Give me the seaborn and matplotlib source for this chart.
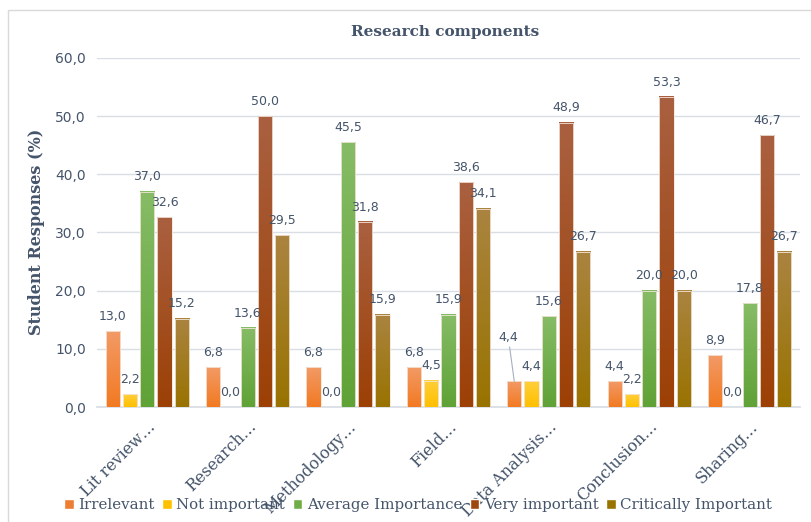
import numpy as np
import pandas as pd
import matplotlib
matplotlib.use("Agg")
import matplotlib.pyplot as plt
import matplotlib.colors as mcolors
from matplotlib.patches import Rectangle
import seaborn as sns

# data
components = ["Lit review…", "Research…", "Methodology…", "Field…",
              "Data Analysis…", "Conclusion…", "Sharing…"]
levels = ["Irrelevant", "Not important", "Average Importance",
          "Very important", "Critically Important"]
irrelevant = [13.0, 6.8, 6.8, 6.8, 4.4, 4.4, 8.9]
not_important = [2.2, 0.0, 0.0, 4.5, 4.4, 2.2, 0.0]
average_importance = [37.0, 13.6, 45.5, 15.9, 15.6, 20.0, 17.8]
very_important = [32.6, 50.0, 31.8, 38.6, 48.9, 53.3, 46.7]
critically_important = [15.2, 29.5, 15.9, 34.1, 26.7, 20.0, 26.7]

base_colors = ["#ED7D31", "#FFC000", "#70AD47", "#9E480E", "#997300"]
# (top, bottom) for the vertical gradient on each bar
grad_colors = [("#F29A66", "#F27A22"), ("#FFCF3A", "#FFC000"),
               ("#86BC66", "#5FA236"), ("#AA6040", "#9C4005"),
               ("#AA8440", "#997300")]
text_col = "#44546A"

values = [irrelevant, not_important, average_importance,
          very_important, critically_important]
rows = []
for lvl, vals in zip(levels, values):
    for comp, v in zip(components, vals):
        rows.append({"component": comp, "level": lvl, "value": v})
df = pd.DataFrame(rows)

sns.set_theme(style="white")
plt.rcParams["font.family"] = ["DejaVu Serif"]

fig = plt.figure(figsize=(8.12, 5.22), dpi=100)
ax = fig.add_axes([0.1195, 0.2203, 0.8655, 0.6687])

sns.barplot(data=df, x="component", y="value", hue="level",
            order=components, hue_order=levels, palette=base_colors,
            width=0.86, gap=0.18, edgecolor="#F4E6DA", linewidth=0.6,
            legend=False, ax=ax, zorder=3)

fmt = lambda v: f"{v:.1f}".replace(".", ",")

# gradient fill on each bar
for k, (cont, (top, bot)) in enumerate(zip(ax.containers, grad_colors)):
    c_top = np.array(mcolors.to_rgb(top))
    c_bot = np.array(mcolors.to_rgb(bot))
    t = np.linspace(0, 1, 128)[:, None]
    img = (c_top * (1 - t) + c_bot * t)[:, None, :]
    for p in cont.patches:
        h = p.get_height()
        if h <= 0:
            p.set_visible(False)
            continue
        x0 = p.get_x()
        ax.imshow(img, extent=(x0, x0 + p.get_width(), 0, h),
                  aspect="auto", origin="upper", zorder=3.5)
        p.set_facecolor("none")
        p.set_zorder(4)
    labels = [fmt(v) for v in cont.datavalues]
    # where two neighbouring labels would collide, lift the first one with a leader line
    if k == 0:
        nxt = values[1]
        for i, v in enumerate(cont.datavalues):
            if v > 0 and abs(v - nxt[i]) < 1.0:
                labels[i] = ""
                p = cont.patches[i]
                xc = p.get_x() + p.get_width() / 2
                ax.annotate(fmt(v), xy=(xc, v), xytext=(xc - 0.06, v + 6.5),
                            ha="center", va="bottom", fontsize=9, color=text_col,
                            family="DejaVu Sans", zorder=5,
                            arrowprops=dict(arrowstyle="-", color="#A6B0C0", lw=0.8,
                                            shrinkA=0, shrinkB=0))
    ax.bar_label(cont, labels=labels, padding=6, fontsize=9, color=text_col,
                 family="DejaVu Sans", zorder=5)

ax.set_xlim(-0.5, len(components) - 0.5)
ax.set_ylim(0, 60)
ax.set_yticks(np.arange(0, 61, 10))
ax.set_yticklabels([fmt(v) for v in np.arange(0, 61, 10)],
                   fontsize=10, color=text_col, family="DejaVu Sans")
ax.yaxis.grid(True, color="#D9DEE5", linewidth=1, zorder=0)
ax.set_axisbelow(True)
for s in ["top", "right", "left"]:
    ax.spines[s].set_visible(False)
ax.spines["bottom"].set_color("#D9DEE5")
ax.tick_params(axis="both", length=0, pad=8)
ax.set_xticks(range(len(components)))
ax.set_xticklabels(components, rotation=45, ha="right", rotation_mode="anchor",
                   fontsize=11.5, color=text_col)
ax.set_xlabel("")
ax.set_ylabel("")

fig.text(0.548, 0.939, "Research components", ha="center", va="center",
         fontsize=11, fontweight="bold", color=text_col)
fig.text(0.045, 0.555, "Student Responses (%)", ha="center", va="center",
         rotation=90, fontsize=11.5, fontweight="bold", color=text_col)

handles = [Rectangle((0, 0), 1, 1, facecolor=c) for c in base_colors]
fig.legend(handles, levels, loc="center", bbox_to_anchor=(0.515, 0.032), ncol=5,
           frameon=False, fontsize=10.8, labelcolor=text_col,
           handlelength=0.65, handleheight=0.65, handletextpad=0.3,
           columnspacing=0.5, borderpad=0.1)

fig.patches.append(Rectangle((8 / 812, -0.1), 1.2, 1 - 10 / 522 + 0.1,
                             transform=fig.transFigure, fill=False,
                             edgecolor="#D9D9D9", linewidth=1, zorder=0))

fig.savefig("out.png", dpi=100)
